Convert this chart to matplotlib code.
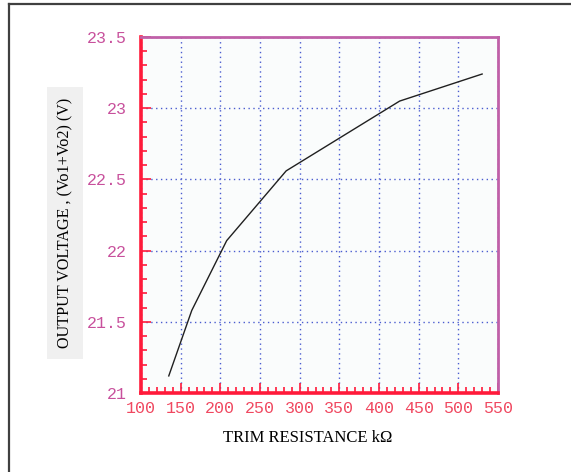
import matplotlib.pyplot as plt
from matplotlib.lines import Line2D
from matplotlib.ticker import MultipleLocator

# Trim resistance (kOhm) vs output voltage (V)
trim_kohm = [135, 164, 208, 283, 426, 530]
vout = [21.12, 21.58, 22.07, 22.56, 23.05, 23.24]

x_ticks = [100, 150, 200, 250, 300, 350, 400, 450, 500, 550]
y_ticks = [21, 21.5, 22, 22.5, 23, 23.5]
y_tick_labels = ['21', '21.5', '22', '22.5', '23', '23.5']

mono = 'Liberation Mono'
serif = 'Liberation Serif'

fig = plt.figure(figsize=(5.71, 4.72), dpi=100)
fig.patch.set_facecolor('white')

# Axes placed to match the reference plot box
ax = fig.add_axes([141 / 571, 79 / 472, 357 / 571, 356 / 472])
ax.set_facecolor('#fafcfc')

ax.plot(trim_kohm, vout, color='#202020', linewidth=1.0)

ax.set_xlim(100, 550)
ax.set_ylim(21, 23.5)
ax.set_xticks(x_ticks)
ax.set_yticks(y_ticks)
ax.set_yticklabels(y_tick_labels)
ax.xaxis.set_minor_locator(MultipleLocator(10))
ax.yaxis.set_minor_locator(MultipleLocator(0.1))

# Dotted blue grid
ax.grid(True, which='major', color='#4a5cd0', linestyle=(0, (1, 2.5)), linewidth=1.0)

# Spines: red left/bottom, magenta top/right
for side in ['left', 'bottom']:
    ax.spines[side].set_color('#ff1a3a')
    ax.spines[side].set_linewidth(2.6)
for side in ['top', 'right']:
    ax.spines[side].set_color('#c060a8')
    ax.spines[side].set_linewidth(2.0)

ax.tick_params(which='both', direction='in', color='#ff1a3a', width=1.2)
ax.tick_params(which='major', length=7)
ax.tick_params(which='minor', length=4)
ax.tick_params(axis='x', which='major', labelcolor='#f04860', labelsize=12, pad=6)
ax.tick_params(axis='y', which='major', labelcolor='#c8509c', labelsize=12, pad=10)
ax.tick_params(top=False, right=False)

for lbl in ax.get_xticklabels() + ax.get_yticklabels():
    lbl.set_family(mono)

ax.set_xlabel('TRIM RESISTANCE k\u03a9', family=serif, fontsize=12, color='black')
ax.xaxis.set_label_coords(0.468, -0.105)

# Y label with a light gray background box
fig.text(65 / 571, 1 - 223 / 472, 'OUTPUT VOLTAGE , (Vo1+Vo2) (V)', rotation=90,
         family=serif, fontsize=11.6, color='black', ha='center', va='center',
         bbox=dict(boxstyle='square,pad=0.65', facecolor='#f0f0f0', edgecolor='none'))

# Partial frame around the figure (left and top edges)
fig.add_artist(Line2D([9 / 571, 9 / 571], [0, 1 - 4 / 472], transform=fig.transFigure,
                      color='#404040', linewidth=1.6))
fig.add_artist(Line2D([9 / 571, 1], [1 - 4 / 472, 1 - 4 / 472], transform=fig.transFigure,
                      color='#404040', linewidth=1.6))

plt.savefig('out.png', dpi=100, facecolor='white')
